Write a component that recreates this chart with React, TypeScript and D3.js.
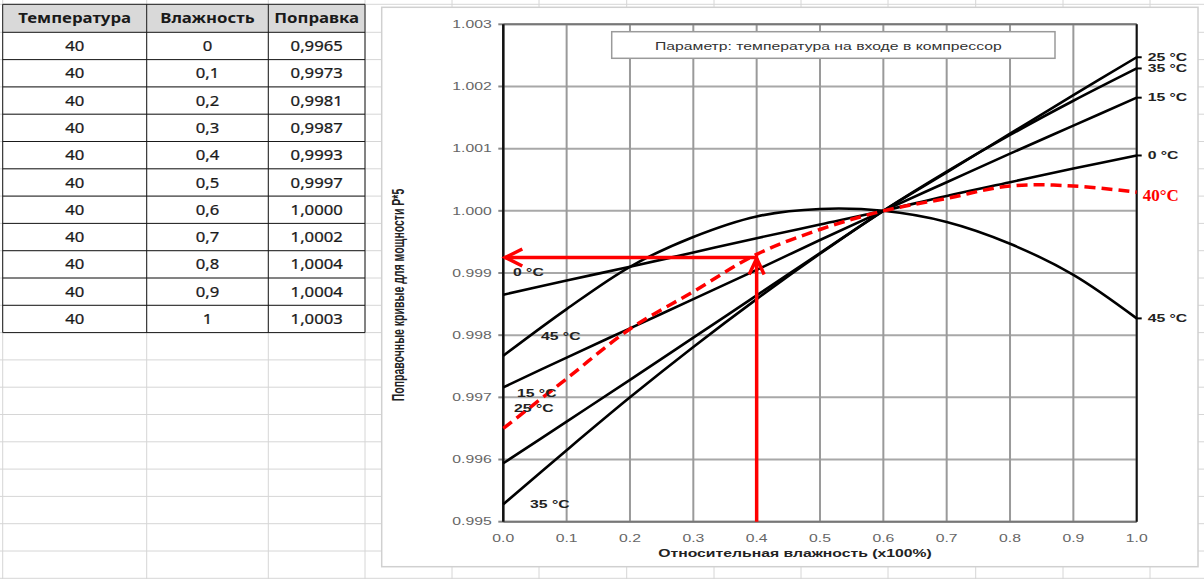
import React from 'react';
import * as d3 from 'd3';

const W = 1204;
const H = 579;

// ---- data ----
const humidity = [0, 0.1, 0.2, 0.3, 0.4, 0.5, 0.6, 0.7, 0.8, 0.9, 1.0];
const corr40 = [0.9965, 0.9973, 0.9981, 0.9987, 0.9993, 0.9997, 1.0, 1.0002, 1.0004, 1.0004, 1.0003];
const curve0 = [0.99865, 0.99888, 0.9991, 0.99933, 0.99956, 0.99978, 1.0, 1.00024, 1.00046, 1.00068, 1.00089];
const curve15 = [0.99716, 0.99764, 0.99811, 0.99858, 0.99905, 0.99953, 1.0, 1.00046, 1.00092, 1.00137, 1.00182];
const curve25 = [0.99594, 0.99661, 0.99728, 0.99796, 0.99864, 0.99932, 1.0, 1.00062, 1.00124, 1.00186, 1.00247];
const curve35 = [0.99528, 0.99615, 0.997, 0.99781, 0.99858, 0.99931, 1.0, 1.00063, 1.00122, 1.00177, 1.00229];
const curve45 = [0.99767, 0.99842, 0.9991, 0.99958, 0.99991, 1.00003, 1.0, 0.99982, 0.99947, 0.99897, 0.99827];
const curveLabels = ['0 °C', '15 °C', '25 °C', '35 °C', '45 °C'];
const yTicks = [0.995, 0.996, 0.997, 0.998, 0.999, 1.0, 1.001, 1.002, 1.003];
const xTicks = [0, 0.1, 0.2, 0.3, 0.4, 0.5, 0.6, 0.7, 0.8, 0.9, 1.0];
const readHumidity = 0.4;
const readValue = 0.99925;
const tableHeaders = ['Температура', 'Влажность', 'Поправка'];
const tableTemperature = 40;
const legendText = 'Параметр: температура на входе в компрессор';
const xTitle = 'Относительная влажность (x100%)';
const yTitle = 'Поправочные кривые для мощности P*5';
const redLabel = '40°C';

// left-side in-plot label anchors (humidity, value)
const leftLabelPos: [number, number][] = [
  [0.0153, 0.99901],
  [0.0216, 0.997058],
  [0.0169, 0.996817],
  [0.0422, 0.995276],
  [0.0595, 0.997989],
];

const chartFont = '"Liberation Sans", Arial, sans-serif';
const tableFont = '"Noto Sans", "Open Sans", sans-serif';

function SText(props: any) {
  const { x, y, sx = 1, anchor = 'start', children, ...rest } = props;
  return (
    <text transform={`translate(${x},${y}) scale(${sx},1)`} textAnchor={anchor} dy="0.35em" {...rest}>
      {children}
    </text>
  );
}

export default function App() {
  const x = d3.scaleLinear().domain([0, 1]).range([503.3, 1136.7]);
  const y = d3.scaleLinear().domain([0.995, 1.003]).range([521.7, 24.3]);
  const line = d3
    .line<number>()
    .x((_, i) => x(humidity[i]))
    .y((d) => y(d))
    .curve(d3.curveCatmullRom.alpha(0.5));

  const blackCurves = [curve0, curve15, curve25, curve35, curve45];

  // spreadsheet grid
  const colLines = [2.7, 146.7, 268.3, 365, 452, 539, 626.7, 714, 801, 888, 975.7, 1063, 1150];
  const rowLines = [4.3, ...d3.range(21).map((k) => 32.3 + 27.3 * k)];
  const tCols = [2.7, 146.7, 268.3, 365];
  const tTop = 4.3;
  const hdrBottom = 32.3;
  const rowH = 27.3;
  const tBottom = hdrBottom + rowH * humidity.length;

  const fmtH = (v: number) => (v === 0 || v === 1 ? String(v) : v.toFixed(1).replace('.', ','));
  const fmtC = (v: number) => v.toFixed(4).replace('.', ',');

  const ax = x(readHumidity);
  const ay = y(readValue);

  return (
    <svg
      width={W}
      height={H}
      viewBox={`0 0 ${W} ${H}`}
      style={{ position: 'fixed', left: 0, top: 0, background: '#fff' }}
    >
      <rect x={0} y={0} width={W} height={H} fill="#fff" />
      {/* spreadsheet grid */}
      <g stroke="#d6d6d6" strokeWidth={1}>
        {colLines.map((c) => (
          <line key={'c' + c} x1={c} x2={c} y1={0} y2={H} />
        ))}
        {rowLines.map((r) => (
          <line key={'r' + r} x1={0} x2={W} y1={r} y2={r} />
        ))}
      </g>

      {/* table */}
      <rect x={tCols[0]} y={tTop} width={tCols[3] - tCols[0]} height={hdrBottom - tTop} fill="#d9d9d9" />
      <g stroke="#1a1a1a" strokeWidth={1}>
        {tCols.map((c) => (
          <line key={'tc' + c} x1={c} x2={c} y1={tTop} y2={tBottom} />
        ))}
        {[tTop, hdrBottom, ...humidity.map((_, i) => hdrBottom + rowH * (i + 1))].map((r) => (
          <line key={'tr' + r} x1={tCols[0]} x2={tCols[3]} y1={r} y2={r} />
        ))}
      </g>
      <g fontFamily={tableFont} fill="#1a1a1a">
        {tableHeaders.map((h, i) => (
          <SText
            key={h}
            x={(tCols[i] + tCols[i + 1]) / 2}
            y={(tTop + hdrBottom) / 2}
            sx={1.2}
            anchor="middle"
            fontSize={14}
            fontWeight="bold"
          >
            {h}
          </SText>
        ))}
        {humidity.map((h, i) => {
          const cy = hdrBottom + rowH * i + rowH / 2;
          return (
            <g key={'row' + i} fontSize={14.5} stroke="#1a1a1a" strokeWidth={0.25}>
              <SText x={(tCols[0] + tCols[1]) / 2} y={cy} sx={1.15} anchor="middle">
                {tableTemperature}
              </SText>
              <SText x={(tCols[1] + tCols[2]) / 2} y={cy} sx={1.15} anchor="middle">
                {fmtH(h)}
              </SText>
              <SText x={(tCols[2] + tCols[3]) / 2} y={cy} sx={1.15} anchor="middle">
                {fmtC(corr40[i])}
              </SText>
            </g>
          );
        })}
      </g>

      {/* chart area */}
      <rect x={381.7} y={7.3} width={1198 - 381.7} height={566.7 - 7.3} fill="#fff" stroke="#d0d0d0" strokeWidth={1.5} />

      {/* gridlines */}
      <g stroke="#a8a8a8" strokeWidth={2}>
        {yTicks.map((t) => (
          <line key={'gy' + t} x1={x(0)} x2={x(1)} y1={y(t)} y2={y(t)} />
        ))}
        {xTicks.map((t) => (
          <line key={'gx' + t} x1={x(t)} x2={x(t)} y1={y(1.003)} y2={y(0.995)} stroke="#9a9a9a" />
        ))}
        {yTicks.map((t) => (
          <line key={'ty' + t} x1={x(0) - 5} x2={x(0)} y1={y(t)} y2={y(t)} stroke="#888" />
        ))}
      </g>
      {/* frame */}
      <line x1={x(0)} x2={x(1)} y1={y(1.003)} y2={y(1.003)} stroke="#777" strokeWidth={2} />
      <line x1={x(0)} x2={x(1)} y1={y(0.995)} y2={y(0.995)} stroke="#777" strokeWidth={2} />
      <line x1={x(0)} x2={x(0)} y1={y(1.003)} y2={y(0.995)} stroke="#111" strokeWidth={2.5} />
      <line x1={x(1)} x2={x(1)} y1={y(1.003)} y2={y(0.995)} stroke="#111" strokeWidth={2} />

      {/* legend */}
      <rect x={611.7} y={31.7} width={1055 - 611.7} height={58.3 - 31.7} fill="#fff" stroke="#9a9a9a" strokeWidth={1.5} />
      <SText x={655} y={46} sx={1.5} fontFamily={chartFont} fontSize={10.5} fill="#333">
        {legendText}
      </SText>

      {/* tick labels */}
      <g fontFamily={chartFont} fontSize={10.5} fill="#666">
        {yTicks.map((t) => (
          <SText key={'ly' + t} x={491.7} y={y(t)} sx={1.5} anchor="end">
            {t.toFixed(3)}
          </SText>
        ))}
        {xTicks.map((t) => (
          <SText key={'lx' + t} x={x(t)} y={538} sx={1.5} anchor="middle">
            {t.toFixed(1)}
          </SText>
        ))}
      </g>

      {/* axis titles */}
      <SText x={795} y={553} sx={1.5} anchor="middle" fontFamily={chartFont} fontSize={10.5} fontWeight="bold" fill="#222">
        {xTitle}
      </SText>
      <text
        transform={`translate(398.5,295) rotate(-90) scale(1,1.5)`}
        textAnchor="middle"
        dy="0.35em"
        fontFamily={chartFont}
        fontSize={10.5}
        fontWeight="bold"
        fill="#222"
      >
        {yTitle}
      </text>

      {/* curves */}
      <g fill="none" stroke="#000" strokeWidth={2.6} strokeLinejoin="round">
        {blackCurves.map((c, i) => (
          <path key={'curve' + i} d={line(c) || ''} />
        ))}
        {blackCurves.map((c, i) => (
          <line key={'tick' + i} x1={x(1)} x2={x(1) + 5} y1={y(c[c.length - 1])} y2={y(c[c.length - 1])} strokeWidth={2} />
        ))}
      </g>
      <path d={line(corr40) || ''} fill="none" stroke="#ff0000" strokeWidth={3.5} strokeDasharray="11,6" />

      {/* curve labels */}
      <g fontFamily={chartFont} fontSize={10.5} fontWeight="bold" fill="#222">
        {curveLabels.map((l, i) => (
          <SText key={'rl' + l} x={x(1) + 11} y={y(blackCurves[i][blackCurves[i].length - 1])} sx={1.5}>
            {l}
          </SText>
        ))}
        {curveLabels.map((l, i) => (
          <SText key={'ll' + l} x={x(leftLabelPos[i][0])} y={y(leftLabelPos[i][1])} sx={1.5}>
            {l}
          </SText>
        ))}
      </g>
      <text
        x={x(1) + 6}
        y={y(corr40[corr40.length - 1]) + 3}
        dy="0.35em"
        fontFamily='"Liberation Serif", "Times New Roman", serif'
        fontSize={17}
        fontWeight="bold"
        fill="#ff0000"
      >
        {redLabel}
      </text>

      {/* arrows */}
      <g stroke="#ff0000" strokeWidth={3.5} fill="none" strokeLinecap="butt">
        <line x1={ax} x2={ax} y1={y(0.995)} y2={ay + 1} />
        <line x1={ax + 1.5} x2={x(0) + 1} y1={ay} y2={ay} />
        <polyline points={`${ax - 7.5},${ay + 17} ${ax},${ay + 1} ${ax + 7.5},${ay + 17}`} />
        <polyline points={`${x(0) + 19},${ay - 8.5} ${x(0) + 2},${ay} ${x(0) + 19},${ay + 8.5}`} />
      </g>
    </svg>
  );
}
